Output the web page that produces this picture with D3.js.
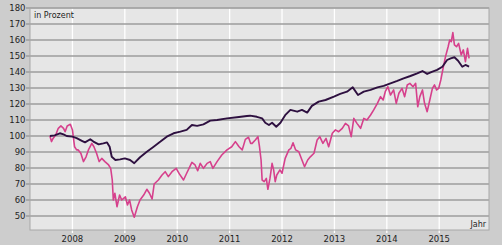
<!DOCTYPE html>
<html>
<head>
<meta charset="utf-8">
<script src="https://cdn.jsdelivr.net/npm/d3@7.9.0/dist/d3.min.js"></script>
<style>
  html, body { margin: 0; padding: 0; background: #fff; }
  svg { display: block; font-family: "DejaVu Sans", Verdana, sans-serif; }
</style>
</head>
<body>
<svg id="chart" width="504" height="248"></svg>
<script>
// dark line (smoother series), decimal years
const darkYears = [2007.57, 2007.66, 2007.76, 2007.83, 2007.89, 2008.0, 2008.08, 2008.18, 2008.24, 2008.34,
  2008.4, 2008.5, 2008.59, 2008.66, 2008.71, 2008.75, 2008.82, 2008.91, 2009.0, 2009.1, 2009.18,
  2009.29, 2009.42, 2009.55, 2009.68, 2009.8, 2009.93, 2010.06, 2010.18, 2010.28, 2010.38, 2010.5,
  2010.63, 2010.76, 2010.95, 2011.14, 2011.33, 2011.39, 2011.52, 2011.62, 2011.68, 2011.75, 2011.81,
  2011.89, 2011.97, 2012.06, 2012.16, 2012.29, 2012.38, 2012.48, 2012.57, 2012.7, 2012.83, 2012.99,
  2013.11, 2013.24, 2013.35, 2013.45, 2013.56, 2013.69, 2013.82, 2013.94, 2014.07, 2014.2, 2014.32,
  2014.45, 2014.58, 2014.68, 2014.77, 2014.87, 2014.96, 2015.06, 2015.15, 2015.22, 2015.29, 2015.36,
  2015.44, 2015.5, 2015.57];
const darkValues = [100, 100.4, 101.7, 101, 100, 99.6, 98.7, 97, 96, 98,
  96.5, 94.8, 95.4, 96, 93.3, 87, 85, 85.4, 86, 85, 83,
  86.7, 90.2, 93.3, 96.5, 99.6, 101.7, 102.7, 103.8, 106.9, 106.3, 107.3,
  109.6, 110, 111, 111.7, 112.5, 112.7, 112, 111, 108.3, 106.9, 108.3,
  105.8, 108.3, 113, 116.3, 115.2, 116.3, 114.6, 118.8, 121.5, 122.5, 124.6,
  126.3, 127.7, 130.4, 125.6, 127.7, 128.8, 130.4, 131.3, 132.9, 134.4, 136,
  137.5, 139.2, 140.6, 138.8, 140.2, 141.3, 143.3, 147.5, 148.5, 149.2, 147,
  143.3, 144.4, 143.3];

// pink line (volatile series), decimal years
const pinkYears = [2007.57, 2007.6, 2007.63, 2007.68, 2007.73, 2007.78, 2007.83, 2007.86, 2007.9, 2007.96,
  2008.0, 2008.04, 2008.08, 2008.11, 2008.16, 2008.21, 2008.26, 2008.31, 2008.37, 2008.41, 2008.46,
  2008.51, 2008.56, 2008.62, 2008.69, 2008.73, 2008.76, 2008.78, 2008.81, 2008.85, 2008.9, 2008.94,
  2009.01, 2009.05, 2009.09, 2009.13, 2009.18, 2009.24, 2009.29, 2009.36, 2009.42, 2009.47, 2009.52,
  2009.56, 2009.64, 2009.71, 2009.77, 2009.83, 2009.9, 2009.98, 2010.04, 2010.12, 2010.18, 2010.28,
  2010.34, 2010.39, 2010.44, 2010.5, 2010.57, 2010.63, 2010.68, 2010.76, 2010.85, 2010.95, 2011.04,
  2011.11, 2011.18, 2011.24, 2011.3, 2011.36, 2011.4, 2011.43, 2011.49, 2011.54, 2011.57, 2011.6,
  2011.62, 2011.66, 2011.7, 2011.73, 2011.77, 2011.81, 2011.84, 2011.87, 2011.9, 2011.96, 2012.0,
  2012.06, 2012.13, 2012.17, 2012.21, 2012.26, 2012.32, 2012.38, 2012.43, 2012.49, 2012.54, 2012.61,
  2012.67, 2012.72, 2012.78, 2012.84, 2012.89, 2012.96, 2013.02, 2013.08, 2013.15, 2013.21, 2013.27,
  2013.32, 2013.37, 2013.43, 2013.5, 2013.56, 2013.62, 2013.69, 2013.75, 2013.82, 2013.88, 2013.93,
  2013.97, 2014.02, 2014.07, 2014.13, 2014.18, 2014.23, 2014.29, 2014.34, 2014.39, 2014.44, 2014.5,
  2014.55, 2014.59, 2014.63, 2014.68, 2014.72, 2014.77, 2014.82, 2014.87, 2014.91, 2014.95, 2014.99,
  2015.03, 2015.08, 2015.12, 2015.17, 2015.2, 2015.23, 2015.26, 2015.29, 2015.33, 2015.37, 2015.42,
  2015.46, 2015.5, 2015.54, 2015.57];
const pinkValues = [100, 96.5, 98.5, 100.6, 104.8, 106.3, 104.8, 102.7, 106.3, 107.3,
  103.8, 93.3, 91.3, 91.3, 89.2, 84, 87, 91.7, 95.4, 93.3, 89.2,
  84, 86, 84, 81.9, 79.8, 72.5, 60, 64.2, 55.8, 63.1, 60,
  62, 56.9, 60, 53.8, 49.2, 55.8, 60, 63.1, 66.7, 64.2, 60.6,
  70, 72.5, 75.6, 77.7, 74.6, 77.7, 79.8, 76.3, 72.5, 76.7, 83.5,
  81.9, 78.3, 82.9, 79.8, 82.9, 84, 79.8, 84, 88.1, 91.3, 93.3,
  96.5, 93.3, 91.3, 97.9, 99.2, 95.4, 95.4, 97.5, 99.6, 93.3, 85,
  72.5, 71.5, 73.5, 66.7, 73.5, 82.9, 78.8, 71.5, 75.6, 78.8, 76.7,
  86, 91.3, 92.3, 95.8, 91.3, 90.2, 85, 80.8, 85, 87, 89.2,
  97.5, 99.6, 95.4, 98.5, 93.3, 101.7, 103.8, 102.7, 104.8, 107.9, 106.3,
  99.6, 111, 107.9, 104.8, 111, 110, 113.1, 116.3, 120.4, 124.6, 122.5,
  127.7, 130.8, 125.6, 128.8, 120.4, 126.7, 129.8, 124.6, 131.9, 132.9, 130.8,
  132.9, 118.3, 124.6, 128.8, 120.4, 115.2, 122.5, 129.8, 131.9, 128.8, 129.8,
  135, 143.3, 149.6, 155.8, 160, 159, 164.6, 156.9, 155.8, 157.9, 150.6,
  153.8, 146.5, 154.8, 148.5];

const yTicks = [50, 60, 70, 80, 90, 100, 110, 120, 130, 140, 150, 160, 170, 180];
const xTicks = [2008, 2009, 2010, 2011, 2012, 2013, 2014, 2015];
const yLabel = 'in Prozent';
const xLabel = 'Jahr';

const svg = d3.select('#chart');
const plot = { left: 30, right: 489, top: 8, bottom: 230 };

const x = d3.scaleLinear().domain([2007.19, 2015.95]).range([plot.left, plot.right]);
const y = d3.scaleLinear().domain([40, 180]).range([232, plot.top]);

// outer panel
svg.append('rect')
  .attr('x', 0).attr('y', 0).attr('width', 502).attr('height', 245)
  .attr('fill', '#cdcdcd');

svg.append('rect')
  .attr('x', plot.left).attr('y', plot.top)
  .attr('width', plot.right - plot.left).attr('height', plot.bottom - plot.top)
  .attr('fill', '#e6e6e6');

// vertical grid (white)
svg.append('g')
  .selectAll('line')
  .data(xTicks)
  .join('line')
  .attr('x1', (d) => x(d)).attr('x2', (d) => x(d))
  .attr('y1', plot.top).attr('y2', plot.bottom + 3)
  .attr('stroke', '#fff')
  .attr('stroke-width', 1.3);

// horizontal grid
svg.append('g')
  .selectAll('line')
  .data(yTicks)
  .join('line')
  .attr('x1', plot.left - 4).attr('x2', plot.right)
  .attr('y1', (d) => y(d)).attr('y2', (d) => y(d))
  .attr('stroke', '#9c9c9c')
  .attr('stroke-width', 1.3);

// frame
svg.append('rect')
  .attr('x', plot.left).attr('y', plot.top)
  .attr('width', plot.right - plot.left).attr('height', plot.bottom - plot.top)
  .attr('fill', 'none')
  .attr('stroke', '#a8a8a8')
  .attr('stroke-width', 1);

// axis labels
svg.append('g')
  .selectAll('text')
  .data(yTicks)
  .join('text')
  .attr('x', 25.5)
  .attr('y', (d) => y(d))
  .attr('dy', '0.35em')
  .attr('text-anchor', 'end')
  .attr('font-size', 8.5)
  .attr('fill', '#1e1e1e')
  .text((d) => d);

svg.append('g')
  .selectAll('text')
  .data(xTicks)
  .join('text')
  .attr('x', (d) => x(d))
  .attr('y', 241.5)
  .attr('text-anchor', 'middle')
  .attr('font-size', 8.5)
  .attr('fill', '#1e1e1e')
  .text((d) => d);

svg.append('text')
  .attr('x', 34).attr('y', 18)
  .attr('font-size', 8)
  .attr('fill', '#1e1e1e')
  .text(yLabel);

svg.append('text')
  .attr('x', 486).attr('y', 226.5)
  .attr('text-anchor', 'end')
  .attr('font-size', 8)
  .attr('fill', '#1e1e1e')
  .text(xLabel);

const line = d3.line()
  .x((d) => x(d[0]))
  .y((d) => y(d[1]));

svg.append('path')
  .datum(d3.zip(pinkYears, pinkValues))
  .attr('d', line)
  .attr('fill', 'none')
  .attr('stroke', '#d6408c')
  .attr('stroke-width', 1.6)
  .attr('stroke-linejoin', 'round');

svg.append('path')
  .datum(d3.zip(darkYears, darkValues))
  .attr('d', line)
  .attr('fill', 'none')
  .attr('stroke', '#2e1040')
  .attr('stroke-width', 1.9)
  .attr('stroke-linejoin', 'round');
</script>
</body>
</html>
